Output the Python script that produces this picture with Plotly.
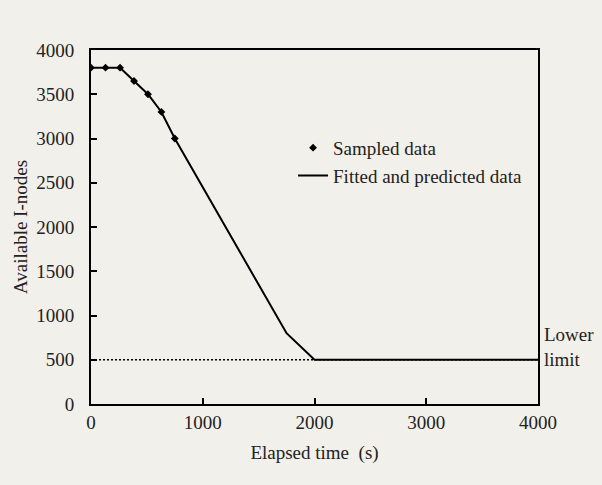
import plotly.graph_objects as go

sample_x = [0, 130, 260, 385, 510, 630, 750]
sample_y = [3800, 3800, 3800, 3650, 3500, 3300, 3000]
fit_x = [0, 130, 260, 385, 510, 630, 750, 1750, 2000, 4000]
fit_y = [3800, 3800, 3800, 3650, 3500, 3300, 3000, 800, 500, 500]
limit_x = [0, 4000]
limit_y = [500, 500]
x_ticks = [0, 1000, 2000, 3000, 4000]
y_ticks = [0, 500, 1000, 1500, 2000, 2500, 3000, 3500, 4000]

BG = "#f2f0ea"
FONT = "Liberation Serif"
FS = 19

fig = go.Figure()
fig.add_trace(go.Scatter(x=limit_x, y=limit_y, mode="lines",
                         line=dict(color="black", width=1.5, dash="2px,2px"),
                         showlegend=False, hoverinfo="skip"))
fig.add_trace(go.Scatter(x=sample_x, y=sample_y, mode="markers", name="Sampled data",
                         legendgroup="a",
                         marker=dict(symbol="diamond", size=6, color="black")))
fig.add_trace(go.Scatter(x=fit_x, y=fit_y, mode="lines", name="Fitted and predicted data",
                         legendgroup="b",
                         line=dict(color="black", width=2)))

fig.add_annotation(x=1, xref="paper", y=500, yref="y", xanchor="left", yanchor="middle",
                   xshift=4, yshift=13, text="Lower<br>limit", showarrow=False, align="left",
                   font=dict(family=FONT, size=FS, color="#222"))

fig.update_layout(
    width=602, height=485,
    paper_bgcolor=BG, plot_bgcolor=BG,
    margin=dict(l=91, r=64, t=50, b=81),
    font=dict(family=FONT, size=FS, color="#222"),
    legend=dict(x=0.452, y=0.684, xanchor="left", yanchor="middle",
                bgcolor="rgba(0,0,0,0)", font=dict(family=FONT, size=FS, color="#222"),
                itemwidth=30, tracegroupgap=0),
    xaxis=dict(range=[0, 4000], tickvals=x_ticks, showgrid=False, zeroline=False,
               showline=True, linecolor="black", linewidth=2, mirror=True,
               ticks="inside", ticklen=6, tickwidth=2, tickcolor="black",
               ticklabelstandoff=0,
               title=dict(text="Elapsed time&nbsp;&nbsp;(s)", font=dict(family=FONT, size=FS), standoff=14)),
    yaxis=dict(range=[0, 4000], tickvals=y_ticks, showgrid=False, zeroline=False,
               showline=True, linecolor="black", linewidth=2, mirror=True,
               ticks="inside", ticklen=6, tickwidth=2, tickcolor="black",
               ticklabelstandoff=11,
               title=dict(text="Available I-nodes", font=dict(family=FONT, size=FS), standoff=4)),
)

fig.write_html("out.html", config={"displayModeBar": False},
               post_script="document.body.style.margin='0';")
